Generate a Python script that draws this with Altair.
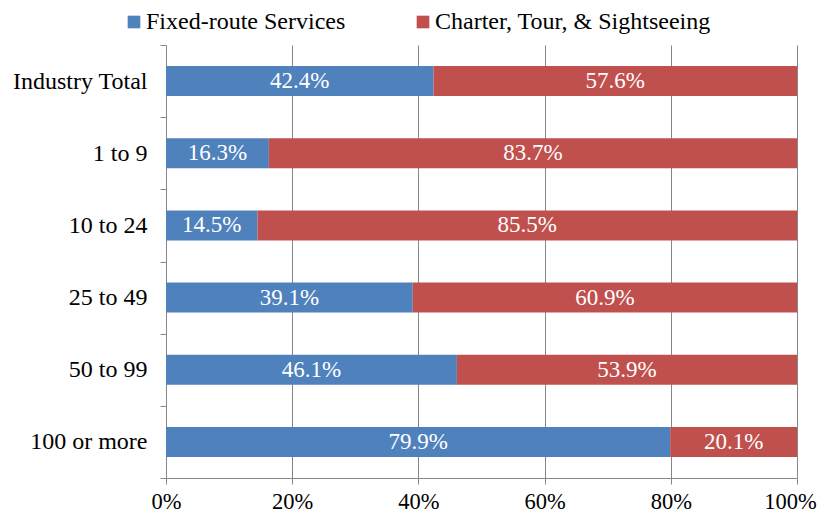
import altair as alt
import pandas as pd

categories = ["Industry Total", "1 to 9", "10 to 24", "25 to 49", "50 to 99", "100 or more"]
fixed_route = [42.4, 16.3, 14.5, 39.1, 46.1, 79.9]
charter = [57.6, 83.7, 85.5, 60.9, 53.9, 20.1]
series = ["Fixed-route Services", "Charter, Tour, & Sightseeing"]
colors = ["#4F81BD", "#C0504D"]
x_ticks = [0, 20, 40, 60, 80, 100]

rows = []
for c, f, ch in zip(categories, fixed_route, charter):
    rows.append({"cat": c, "series": series[0], "start": 0.0, "end": f, "label": f"{f:.1f}%", "order": 0})
    rows.append({"cat": c, "series": series[1], "start": f, "end": f + ch, "label": f"{ch:.1f}%", "order": 1})
df = pd.DataFrame(rows)
df["mid"] = (df["start"] + df["end"]) / 2

FONT = "Liberation Serif, Times New Roman, serif"
GRAY = "#868686"

y = alt.Y("cat:N", sort=categories, title=None,
          scale=alt.Scale(paddingInner=0, paddingOuter=0),
          axis=alt.Axis(domainColor=GRAY, tickColor=GRAY, tickSize=6, tickBand="extent",
                        labelFont=FONT, labelFontSize=24, labelColor="#000000",
                        labelPadding=13, grid=False, labelLimit=0))

x_scale = alt.Scale(domain=[0, 100], nice=False)

bars = alt.Chart(df).mark_bar(size=30).encode(
    x=alt.X("start:Q", scale=x_scale, title=None,
            axis=alt.Axis(values=x_ticks, labelExpr="datum.value + '%'",
                          grid=True, gridColor=GRAY, gridWidth=1, domainColor=GRAY,
                          tickColor=GRAY, tickSize=6, labelFont=FONT, labelFontSize=22.5,
                          labelColor="#000000", labelBaseline="alphabetic", labelPadding=24,
                          labelFlush=False, labelOverlap=False,
                          labelOffset={"condition": {"test": "datum.value === 100", "value": -7},
                                       "value": 0})),
    x2="end:Q",
    y=y,
    color=alt.Color("series:N", sort=series,
                    scale=alt.Scale(domain=series, range=colors),
                    legend=alt.Legend(title=None, orient="none", legendX=-44, legendY=-35,
                                      direction="horizontal", symbolType="square",
                                      symbolSize=160, symbolStrokeWidth=0,
                                      labelFont=FONT, labelFontSize=24, labelColor="#000000",
                                      labelOffset=0, columnPadding=65, labelLimit=0)),
    order="order:Q",
)

labels = alt.Chart(df).mark_text(color="white", font=FONT, fontSize=23, baseline="middle").encode(
    x=alt.X("mid:Q", scale=x_scale),
    y=alt.Y("cat:N", sort=categories),
    text="label:N",
)

chart = (bars + labels).properties(
    width=631, height=433,
    autosize=alt.AutoSizeParams(type="none"),
    padding={"left": 158, "top": 37, "right": 21, "bottom": 34},
).configure_view(stroke=None)

chart.save("out.html", embed_options={"renderer": "svg", "actions": False})
